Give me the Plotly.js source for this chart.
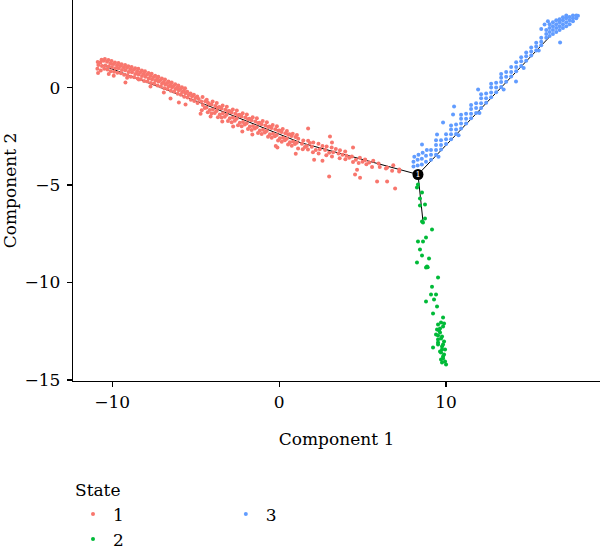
<!DOCTYPE html>
<html>
<head>
<meta charset="utf-8">
<script src="https://cdn.plot.ly/plotly-3.0.1.min.js"></script>
<style>html,body{margin:0;padding:0;background:#fff;}#chart{width:600px;height:547px;}</style>
</head>
<body>
<div id="chart"></div>
<script>
// ---- data ----
const stateNames = ["1", "2", "3"];
const stateColors = ["#F8766D", "#00BA38", "#619CFF"];

const state1Points = [
[-10.88,0.97],[-10.82,1.16],[-10.86,1.31],
[-10.68,0.88],[-10.61,1.11],[-10.7,1.28],[-10.63,1.43],
[-10.47,0.97],[-10.41,1.13],[-10.5,1.37],[-10.43,1.46],
[-10.28,0.92],[-10.21,1.08],[-10.3,1.32],[-10.22,1.41],
[-10.08,0.83],[-10.01,1.06],[-10.1,1.23],[-10.03,1.36],
[-9.88,0.81],[-9.81,0.99],[-9.9,1.21],[-9.83,1.29],
[-9.68,0.76],[-9.61,0.99],[-9.7,1.14],[-9.62,1.26],
[-9.47,0.73],[-9.41,0.9],[-9.5,1.11],[-9.43,1.19],
[-9.28,0.66],[-9.21,0.89],[-9.3,1.04],[-9.22,1.16],
[-9.08,0.63],[-9.01,0.8],[-9.1,1.01],[-9.03,1.09],
[-8.88,0.56],[-8.81,0.79],[-8.9,0.94],[-8.83,1.06],
[-8.68,0.53],[-8.61,0.7],[-8.7,0.91],[-8.62,0.99],
[-8.47,0.46],[-8.41,0.67],[-8.5,0.84],[-8.43,0.96],
[-8.28,0.43],[-8.21,0.59],[-8.3,0.79],[-8.22,0.87],
[-8.08,0.34],[-8.01,0.56],[-8.1,0.71],[-8.03,0.83],
[-7.88,0.31],[-7.81,0.47],[-7.9,0.67],[-7.82,0.75],
[-7.67,0.23],[-7.61,0.43],[-7.7,0.59],[-7.63,0.71],
[-7.48,0.19],[-7.41,0.35],[-7.5,0.54],[-7.42,0.61],
[-7.28,0.1],[-7.21,0.31],[-7.3,0.45],[-7.23,0.56],
[-7.08,0.06],[-7.01,0.21],[-7.1,0.39],[-7.02,0.47],
[-6.87,-0.04],[-6.81,0.16],[-6.9,0.29],[-6.83,0.41],
[-6.68,-0.07],[-6.61,0.07],[-6.7,0.23],[-6.62,0.31],
[-6.48,-0.17],[-6.41,0.01],[-6.5,0.14],[-6.43,0.26],
[-6.28,-0.21],[-6.21,-0.08],[-6.3,0.09],[-6.22,0.17],
[-6.07,-0.32],[-6.01,-0.14],[-6.1,-0.01],[-6.03,0.11],
[-5.88,-0.37],[-5.81,-0.23],[-5.9,-0.06],[-5.82,0.02],
[-5.68,-0.47],[-5.61,-0.29],[-5.7,-0.16],[-5.63,-0.04],
[-5.48,-0.51],[-5.41,-0.38],[-5.5,-0.21],
[-5.28,-0.62],[-5.21,-0.44],[-5.3,-0.31],
[-5.08,-0.69],[-5.01,-0.54],[-5.1,-0.37],
[-4.88,-0.79],[-4.81,-0.59],[-4.9,-0.46],
[-4.63,-1.17],[-4.56,-0.9],[-4.66,-0.72],[-4.58,-0.49],
[-4.27,-1.27],[-4.35,-1.02],[-4.26,-0.78],[-4.33,-0.63],
[-4.04,-1.33],[-3.96,-1.12],[-4.05,-0.87],[-3.98,-0.72],
[-3.66,-1.52],[-3.74,-1.2],[-3.68,-1.03],[-3.73,-0.79],
[-3.44,-1.53],[-3.36,-1.32],[-3.45,-1.08],[-3.38,-0.92],
[-3.06,-1.72],[-3.14,-1.4],[-3.05,-1.22],[-3.13,-0.98],
[-2.84,-1.78],[-2.76,-1.54],[-2.85,-1.28],[-2.77,-1.12],
[-2.46,-1.93],[-2.54,-1.6],[-2.45,-1.42],[-2.53,-1.18],
[-2.24,-1.98],[-2.16,-1.77],[-2.25,-1.48],[-2.18,-1.32],
[-1.86,-2.12],[-1.94,-1.83],[-1.85,-1.62],[-1.93,-1.38],
[-1.64,-2.18],[-1.56,-1.97],[-1.65,-1.68],[-1.58,-1.52],
[-1.26,-2.33],[-1.34,-2.03],[-1.25,-1.82],[-1.33,-1.58],
[-1.04,-2.38],[-0.96,-2.17],[-1.05,-1.88],[-0.98,-1.72],
[-0.66,-2.52],[-0.74,-2.23],[-0.65,-2.02],[-0.73,-1.78],
[-0.44,-2.58],[-0.36,-2.37],[-0.45,-2.08],[-0.38,-1.92],
[-0.06,-2.72],[-0.14,-2.43],[-0.05,-2.22],[-0.13,-1.98],
[0.16,-2.78],[0.24,-2.57],[0.15,-2.28],[0.22,-2.12],
[0.54,-2.92],[0.46,-2.63],[0.55,-2.42],[0.47,-2.23],
[0.76,-2.98],[0.84,-2.77],[0.75,-2.48],[0.82,-2.37],
[1.14,-3.12],[1.06,-2.83],[1.15,-2.62],[1.07,-2.43],
[-4.45,-1.05],[-4.42,-0.7],[-4.15,-1.15],[-4.18,-0.84],[-3.85,-1.3],[-3.82,-0.94],
[-3.55,-1.38],[-3.58,-1.0],[-3.25,-1.5],[-3.22,-1.14],[-2.95,-1.58],[-2.98,-1.2],
[-2.65,-1.7],[-2.62,-1.34],[-2.35,-1.8],[-2.38,-1.4],[-2.05,-1.9],[-2.02,-1.54],
[-1.75,-2.0],[-1.78,-1.6],[-1.45,-2.1],[-1.42,-1.74],[-1.15,-2.2],[-1.18,-1.8],
[-0.85,-2.3],[-0.82,-1.94],[-0.55,-2.4],[-0.58,-2.0],[-0.25,-2.5],[-0.22,-2.14],
[0.05,-2.6],[0.02,-2.2],[0.35,-2.7],[0.38,-2.34],[0.65,-2.8],[0.62,-2.4],[0.95,-2.9],[0.98,-2.54],
[1.42,-3.17],[1.37,-2.88],[1.45,-2.72],
[1.73,-3.18],[1.66,-3.0],[1.74,-2.73],
[2.03,-3.32],[1.96,-3.03],[2.05,-2.82],
[2.37,-3.38],[2.44,-3.17],[2.36,-2.88],
[2.83,-3.47],[2.76,-3.2],[2.85,-3.02],
[3.17,-3.53],[3.24,-3.32],[3.15,-3.08],
[3.63,-3.62],[3.56,-3.38],[3.65,-3.22],
[3.97,-3.68],[4.04,-3.5],[3.96,-3.28],
[4.43,-3.82],[4.36,-3.53],
[4.77,-3.87],[4.84,-3.6],
[5.23,-3.93],[5.16,-3.72],
[5.57,-4.07],[5.64,-3.76],
[6.03,-4.08],[5.96,-3.9],
[6.4,-4.15],
[6.77,-4.27],[6.84,-3.98],
[7.2,-4.2],
[1.55,-3.05],[1.85,-2.85],[2.2,-3.2],[2.6,-3.0],[3.0,-3.35],[3.4,-3.15],[3.8,-3.45],
[4.2,-3.6],[4.6,-3.7],[5.0,-3.8],[5.4,-3.85],
[-9.2,0.26],[-9.1,0.5],[-8.4,0.41],[-7.7,0.05],[-6.9,-0.26],[-6.5,-0.56],[-6.0,-0.77],
[-5.6,-0.87],[-4.7,-1.35],[-4.1,-1.49],[-3.4,-1.74],[-2.75,-2.0],[-2.2,-2.26],[-1.6,-2.41],
[-0.1,-3.08],[1.74,-2.1],[3.05,-2.51],[3.17,-2.82],[4.43,-3.08],[3.0,-4.56],[4.85,-4.62],
[4.67,-4.21],[5.87,-4.82],[6.47,-4.82],[6.95,-5.18],[7.19,-4.31],[6.47,-4.1],[5.15,-3.69],
[2.1,-3.7],[1.0,-3.4],[-0.2,-3.0],[2.6,-3.75],[4.55,-4.46],[-10.84,0.75],[-10.2,0.7],[-9.9,0.6]
];

const state2Points = [
[8.32,-4.97],[8.26,-5.13],[8.56,-5.38],[8.44,-5.69],[8.74,-6.0],[8.44,-6.05],
[8.56,-6.87],[8.74,-6.72],[8.62,-6.92],[9.16,-7.28],[8.8,-7.69],[8.32,-7.9],
[8.62,-7.9],[8.44,-8.31],[8.56,-8.62],[8.98,-8.77],[8.26,-8.97],[8.86,-9.18],
[8.8,-9.23],[8.9,-9.22],[9.52,-9.74],[9.16,-10.21],[9.1,-10.62],[9.4,-10.62],
[9.28,-10.87],[8.8,-10.97],[9.46,-11.23],[9.22,-11.59],[9.82,-11.79],[9.7,-12.05],
[9.52,-12.15],[9.82,-12.26],[9.46,-12.41],[9.64,-12.56],[9.4,-12.67],[9.76,-12.77],
[9.52,-12.92],[9.88,-13.03],[9.52,-13.18],[9.76,-13.28],[9.22,-13.33],[9.94,-13.44],
[9.7,-13.59],[9.82,-13.79],[9.82,-13.9],[9.94,-14.05],[9.76,-14.1],[10.0,-14.21],
[9.52,-13.08],[9.64,-12.36],[9.52,-12.72],[9.88,-12.1],[9.76,-13.44],
[9.58,-12.46],[9.7,-12.87],[9.82,-13.18],[9.64,-13.54],[9.88,-13.69],[9.7,-13.95]
];

const state3Points = [
[8.05,-4.05],[8.05,-3.8],[8.1,-3.55],[8.3,-4.0],[8.3,-3.7],[8.35,-3.45],
[8.55,-3.95],[8.55,-3.65],[8.6,-3.35],[8.8,-3.8],[8.8,-3.5],[8.85,-3.2],
[9.1,-3.7],[9.1,-3.45],[9.1,-3.2],
[9.4,-3.45],[9.4,-3.2],[9.4,-2.95],[9.4,-2.7],
[9.7,-3.18],[9.7,-2.95],[9.7,-2.7],
[10.0,-2.9],[10.0,-2.65],[10.0,-2.4],
[10.3,-2.65],[10.3,-2.4],[10.3,-2.15],[10.3,-1.95],
[10.6,-2.38],[10.6,-2.15],[10.6,-1.9],
[10.9,-2.1],[10.9,-1.85],[10.9,-1.6],[10.9,-1.4],
[11.2,-1.85],[11.2,-1.6],[11.2,-1.35],
[11.5,-1.58],[11.5,-1.35],[11.5,-1.1],[11.5,-0.9],
[11.8,-1.3],[11.8,-1.05],[11.8,-0.8],
[12.1,-1.05],[12.1,-0.8],[12.1,-0.55],[12.1,-0.35],
[12.4,-0.78],[12.4,-0.55],[12.4,-0.3],
[12.7,-0.5],[12.7,-0.25],[12.7,0.0],[12.7,0.2],
[13.0,-0.24],[13.0,0.0],[13.0,0.25],
[13.3,0.03],[13.3,0.28],[13.3,0.5],[13.3,0.7],
[13.6,0.3],[13.6,0.55],[13.6,0.8],
[13.9,0.57],[13.9,0.8],[13.9,1.05],
[14.2,0.83],[14.2,1.05],[14.2,1.3],
[14.5,1.1],[14.5,1.35],[14.5,1.55],
[14.8,1.37],[14.8,1.6],[14.8,1.8],
[15.1,1.64],[15.1,1.85],[15.1,2.05],
[15.4,1.9],[15.4,2.1],[15.4,2.3],
[15.7,2.17],[15.7,2.35],[15.7,2.55],
[9.55,-3.55],[10.75,-2.45],[12.0,-1.3],[13.45,-0.1],[14.65,1.0],[15.55,1.9],
[16.0,2.55],[16.0,2.75],[16.0,2.95],
[16.2,2.65],[16.2,2.85],[16.2,3.05],[16.2,3.25],
[16.4,2.75],[16.4,2.95],[16.4,3.15],[16.4,3.35],
[16.6,2.85],[16.6,3.05],[16.6,3.25],[16.6,3.45],
[16.8,2.95],[16.8,3.15],[16.8,3.35],[16.8,3.5],
[17.0,3.05],[17.0,3.25],[17.0,3.45],[17.0,3.6],
[17.2,3.15],[17.2,3.35],[17.2,3.55],[17.2,3.7],
[17.4,3.25],[17.4,3.45],[17.4,3.62],
[17.6,3.4],[17.6,3.55],[17.6,3.7],
[17.8,3.55],[17.8,3.7],[17.9,3.68],
[15.9,3.23],[15.7,3.0],[16.1,3.4],
[8.56,-2.92],[9.46,-2.41],[9.82,-1.79],[10.48,-0.97],[10.42,-1.38],[11.92,-0.1],
[14.19,0.31],[16.83,2.31]
];

// trajectory (minimum spanning tree backbone); null separates the branches
const treeX = [-10.6, -4.13, 1.26, 8.32, null, 8.32, 16.2, null, 8.32, 8.62];
const treeY = [1.15, -0.97, -2.82, -4.46, null, -4.46, 2.6, null, -4.46, -6.87];

const branchX = [8.32];
const branchY = [-4.46];
const branchLabels = ["1"];

const xTickVals = [-10, 0, 10];
const xTickText = ["\u221210", "0", "10"];
const yTickVals = [-15, -10, -5, 0];
const yTickText = ["\u221215", "\u221210", "\u22125", "0"];

// ---- build ----
const FONT = "DejaVu Serif";
const allPoints = [state1Points, state2Points, state3Points];

const traces = [{
  x: treeX, y: treeY, mode: "lines", type: "scatter",
  line: {color: "#000", width: 1}, showlegend: false, hoverinfo: "skip",
  connectgaps: false
}];

allPoints.forEach((pts, i) => {
  traces.push({
    x: pts.map(p => p[0]), y: pts.map(p => p[1]),
    mode: "markers", type: "scatter", name: stateNames[i],
    marker: {color: stateColors[i], size: 4},
    legend: i === 2 ? "legend2" : "legend"
  });
});

traces.push({
  x: branchX, y: branchY, mode: "markers+text", type: "scatter",
  text: branchLabels, textposition: "middle center",
  textfont: {color: "#fff", size: 8, family: FONT},
  marker: {color: "#000", size: 11, line: {color: "#000", width: 0}},
  showlegend: false, hoverinfo: "skip"
});

const axisCommon = {
  showgrid: false, zeroline: false, showline: true,
  linecolor: "#000", linewidth: 1.3,
  ticks: "outside", ticklen: 5, tickwidth: 1.1, tickcolor: "#000",
  tickfont: {family: FONT, size: 17, color: "#000"},
  automargin: false
};

const layout = {
  width: 600, height: 547,
  margin: {l: 73, r: 0, t: 0, b: 166, autoexpand: false},
  paper_bgcolor: "#fff", plot_bgcolor: "#fff",
  font: {family: FONT, size: 17, color: "#000"},
  xaxis: Object.assign({}, axisCommon, {
    range: [-12.34, 19.22], tickmode: "array",
    tickvals: xTickVals, ticktext: xTickText,
    title: {text: "Component 1", font: {family: FONT, size: 17, color: "#000"}, standoff: 22}
  }),
  yaxis: Object.assign({}, axisCommon, {
    range: [-15.05, 4.49], tickmode: "array",
    tickvals: yTickVals, ticktext: yTickText,
    ticklabelstandoff: 3,
    title: {text: "Component 2", font: {family: FONT, size: 17, color: "#000"}, standoff: 8}
  }),
  legend: {
    x: 0.0, xanchor: "left", y: -0.245, yanchor: "top",
    orientation: "v", bgcolor: "rgba(0,0,0,0)",
    font: {family: FONT, size: 17, color: "#000"},
    title: {text: "State", font: {family: FONT, size: 17, color: "#000"}},
    itemwidth: 30, tracegroupgap: 0
  },
  legend2: {
    x: 0.29, xanchor: "left", y: -0.245, yanchor: "top",
    orientation: "v", bgcolor: "rgba(0,0,0,0)",
    font: {family: FONT, size: 17, color: "#000"},
    title: {text: " ", font: {family: FONT, size: 17, color: "#000"}},
    itemwidth: 30, tracegroupgap: 0
  },
  showlegend: true
};

Plotly.newPlot("chart", traces, layout, {displayModeBar: false, staticPlot: true});
</script>
</body>
</html>
